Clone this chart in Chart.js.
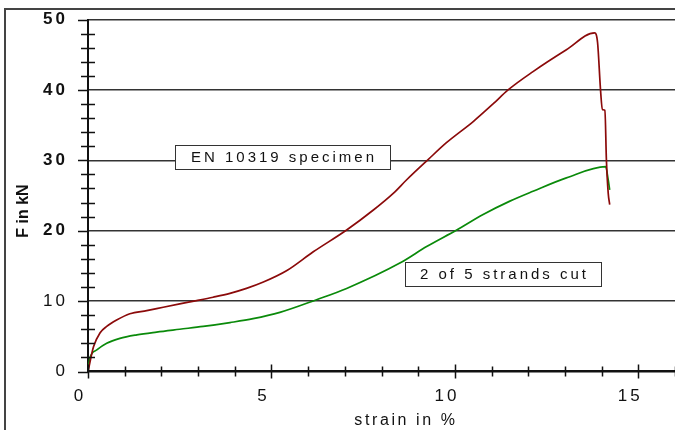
<!DOCTYPE html>
<html>
<head>
<meta charset="utf-8">
<script src="https://cdn.jsdelivr.net/npm/chart.js@4/dist/chart.umd.min.js"></script>
<style>
  html, body { margin: 0; padding: 0; background: #fff; }
  #wrap { position: relative; width: 675px; height: 430px; overflow: hidden; }
  #frame { position: absolute; left: 4px; top: 8px; width: 700px; height: 440px;
           border-left: 2px solid #444; border-top: 2px solid #444; pointer-events: none; }
  canvas { position: absolute; left: 0; top: 0; }
</style>
</head>
<body>
<div id="wrap">
  <canvas id="c" width="675" height="430"></canvas>
  <div id="frame"></div>
</div>
<script>
// ---- data ----
const specimenStrain = [0, 0.15, 0.33, 0.51, 0.78, 1.14, 1.6, 2.05, 2.5, 2.96, 3.41, 3.87, 4.32, 4.78, 5.41, 6.14, 7.05, 7.77, 8.32, 8.68, 9.27, 9.77, 10.5, 11.04, 11.45, 12.13, 13.04, 13.81, 13.89, 13.97, 14.02, 14.09, 14.13, 14.18, 14.22];
const specimenForce  = [0, 3.5, 5.5, 6.4, 7.3, 8.2, 8.65, 9.13, 9.6, 10.07, 10.55, 11.1, 11.8, 12.7, 14.3, 17.0, 20.1, 22.9, 25.3, 27.2, 30.1, 32.5, 35.5, 38.0, 40.0, 42.6, 45.7, 48.1, 46.7, 40.0, 37.2, 37.1, 30.1, 25.3, 23.7];
const cutStrain = [0, 0.05, 0.24, 0.51, 0.87, 1.33, 1.87, 2.5, 3.14, 3.87, 4.5, 5.23, 6.23, 7.05, 8.5, 9.23, 10.05, 10.77, 11.5, 12.13, 13.04, 14.11, 14.18, 14.22];
const cutForce  = [0.2, 1.9, 3.06, 4.0, 4.7, 5.2, 5.6, 6.0, 6.4, 6.95, 7.5, 8.4, 10.2, 11.8, 15.4, 17.75, 20.1, 22.3, 24.2, 25.6, 27.5, 29.1, 27.2, 25.8];
const seriesLabels = ["EN 10319 specimen", "2 of 5 strands cut"];
const xTickLabels = [0, 5, 10, 15];
const yTickLabels = [0, 10, 20, 30, 40, 50];
const xTitle = "strain in %";
const yTitle = "F in kN";

const FONT = "'Liberation Sans', Arial, sans-serif";

function pts(xs, ys) { return xs.map((x, i) => ({ x: x, y: ys[i] })); }
function noPad(s) { s.paddingLeft = 0; s.paddingRight = 0; s.paddingTop = 0; s.paddingBottom = 0; }

const decor = {
  id: 'decor',
  beforeDraw(chart) {
    chart.ctx.letterSpacing = '3px';
  },
  afterDraw(chart) {
    const ctx = chart.ctx;
    const xs = chart.scales.x, ys = chart.scales.y;
    const ax = xs.getPixelForValue(0), ay = ys.getPixelForValue(0);
    ctx.save();
    ctx.letterSpacing = '0px';
    ctx.strokeStyle = '#111';
    ctx.lineWidth = 1.5;
    ctx.beginPath();
    for (let v = 0; v <= 50; v += 2) {
      const py = Math.round(ys.getPixelForValue(v)) + 0.5;
      if (v % 10 === 0) { ctx.moveTo(ax - 10, py); ctx.lineTo(ax, py); }
      else { ctx.moveTo(ax - 7, py); ctx.lineTo(ax + 7, py); }
    }
    for (let v = 0; v <= 16; v += 1) {
      const px = Math.round(xs.getPixelForValue(v)) + 0.5;
      if (v % 5 === 0) { ctx.moveTo(px, ay - 7); ctx.lineTo(px, ay + 7); }
      else { ctx.moveTo(px, ay - 5); ctx.lineTo(px, ay + 5); }
    }
    ctx.stroke();

    // annotation boxes
    function box(x0, y0, x1, y1, text) {
      ctx.fillStyle = '#fff';
      ctx.fillRect(x0, y0, x1 - x0, y1 - y0);
      ctx.strokeStyle = '#333';
      ctx.lineWidth = 1;
      ctx.strokeRect(x0 + 0.5, y0 + 0.5, x1 - x0, y1 - y0);
      ctx.fillStyle = '#111';
      ctx.font = '15px ' + FONT;
      ctx.letterSpacing = '3px';
      ctx.textAlign = 'center';
      ctx.textBaseline = 'middle';
      ctx.fillText(text, (x0 + x1) / 2 + 1.5, (y0 + y1) / 2 + 1);
    }
    box(175, 145, 390, 169, seriesLabels[0]);
    box(405, 262, 601, 286, seriesLabels[1]);

    // axis titles
    ctx.fillStyle = '#111';
    ctx.font = '16px ' + FONT;
    ctx.letterSpacing = '2.6px';
    ctx.textAlign = 'center';
    ctx.textBaseline = 'middle';
    ctx.fillText(xTitle, 406, 421);

    ctx.letterSpacing = '0px';
    ctx.font = 'bold 16px ' + FONT;
    ctx.translate(23.5, 211);
    ctx.rotate(-Math.PI / 2);
    ctx.fillText(yTitle, 0, 0);
    ctx.restore();
  }
};

new Chart(document.getElementById('c'), {
  type: 'line',
  data: {
    datasets: [
      { label: seriesLabels[0], data: pts(specimenStrain, specimenForce), borderColor: '#8b0a0a', borderWidth: 1.7, pointRadius: 0, cubicInterpolationMode: 'monotone', fill: false },
      { label: seriesLabels[1], data: pts(cutStrain, cutForce), borderColor: '#0a8a0a', borderWidth: 1.7, pointRadius: 0, cubicInterpolationMode: 'monotone', fill: false }
    ]
  },
  options: {
    responsive: false,
    animation: false,
    devicePixelRatio: 1,
    layout: { padding: { top: 19.5, left: 0, right: 0, bottom: 0 } },
    plugins: { legend: { display: false }, tooltip: { enabled: false } },
    scales: {
      x: {
        type: 'linear', min: 0, max: 16,
        afterFit(s) { s.height = 58.5; noPad(s); },
        border: { color: '#111', width: 2.5 },
        grid: { drawOnChartArea: false, drawTicks: false },
        ticks: {
          stepSize: 1, autoSkip: false, maxRotation: 0, padding: 15, labelOffset: -8,
          color: '#111', font: { family: FONT, size: 17 },
          callback: v => xTickLabels.includes(v) ? String(v) : ''
        }
      },
      y: {
        type: 'linear', min: 0, max: 50,
        afterFit(s) { s.width = 88; noPad(s); },
        border: { color: '#111', width: 2 },
        grid: {
          drawTicks: false, lineWidth: 1.4,
          color: c => (c.tick && c.tick.value % 10 === 0 && c.tick.value > 0) ? '#333' : 'rgba(0,0,0,0)'
        },
        ticks: {
          stepSize: 2, autoSkip: false, padding: 20,
          color: '#111',
          font: c => ({ family: FONT, size: 17, weight: (c.tick && c.tick.value >= 20) ? 'bold' : 'normal' }),
          callback: v => yTickLabels.includes(v) ? String(v) : ''
        }
      }
    }
  },
  plugins: [decor]
});
</script>
</body>
</html>
